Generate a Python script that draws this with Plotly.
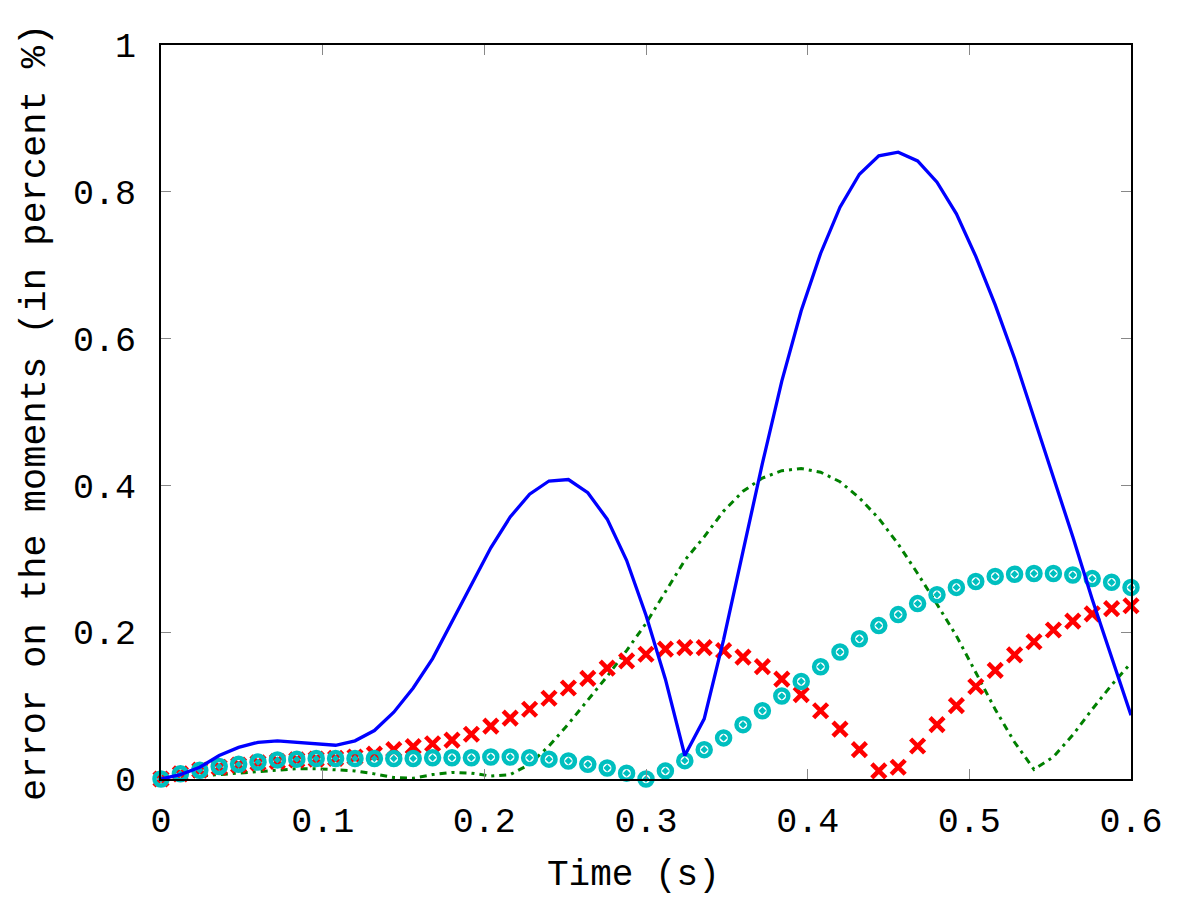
import numpy as np
import plotly.graph_objects as go

# time grid, 51 samples from 0 to 0.6 s
time_s = [round(0.012 * i, 3) for i in range(51)]

err_blue = [0.0, 0.006, 0.016, 0.032, 0.043, 0.05, 0.052, 0.05, 0.047, 0.046,
            0.052, 0.066, 0.091, 0.124, 0.164, 0.215, 0.265, 0.315, 0.357, 0.388,
            0.406, 0.408, 0.39, 0.354, 0.298, 0.223, 0.136, 0.032, 0.082, 0.19,
            0.31, 0.43, 0.542, 0.638, 0.716, 0.779, 0.824, 0.849, 0.854, 0.842,
            0.813, 0.77, 0.712, 0.646, 0.573, 0.492, 0.41, 0.33, 0.245, 0.165,
            0.087]

err_green = [0.0, 0.002, 0.004, 0.006, 0.009, 0.011, 0.013, 0.014, 0.014, 0.013,
             0.011, 0.007, 0.002, 0.001, 0.006, 0.009, 0.008, 0.004, 0.006, 0.02,
             0.045, 0.075, 0.108, 0.14, 0.175, 0.212, 0.255, 0.298, 0.33, 0.365,
             0.392, 0.41, 0.42, 0.423, 0.418, 0.405, 0.383, 0.355, 0.32, 0.28,
             0.238, 0.195, 0.145, 0.095, 0.05, 0.013, 0.03, 0.06, 0.095, 0.128,
             0.158]

err_red = [0.0, 0.007, 0.012, 0.016, 0.019, 0.022, 0.024, 0.026, 0.027, 0.028,
           0.03, 0.034, 0.04, 0.044, 0.048, 0.053, 0.061, 0.072, 0.083, 0.095,
           0.11, 0.124, 0.137, 0.151, 0.161, 0.17, 0.177, 0.179, 0.179, 0.175,
           0.166, 0.153, 0.136, 0.115, 0.093, 0.068, 0.04, 0.011, 0.016, 0.045,
           0.074, 0.1, 0.126, 0.148, 0.169, 0.187, 0.203, 0.215, 0.225, 0.232,
           0.236]

err_cyan = [0.0, 0.007, 0.012, 0.017, 0.02, 0.023, 0.026, 0.027, 0.028, 0.028,
            0.028, 0.028, 0.028, 0.028, 0.029, 0.029, 0.029, 0.03, 0.03, 0.029,
            0.027, 0.0245, 0.02, 0.015, 0.008, 0.0, 0.011, 0.025, 0.04, 0.056,
            0.074, 0.093, 0.113, 0.133, 0.153, 0.173, 0.191, 0.209, 0.224, 0.239,
            0.251, 0.261, 0.269, 0.276, 0.279, 0.28, 0.28, 0.278, 0.273, 0.268,
            0.261]

x_ticks = [0, 0.1, 0.2, 0.3, 0.4, 0.5, 0.6]
x_labels = ["0", "0.1", "0.2", "0.3", "0.4", "0.5", "0.6"]
y_ticks = [0, 0.2, 0.4, 0.6, 0.8, 1]
y_labels = ["0", "0.2", "0.4", "0.6", "0.8", "1"]

FONT = "Liberation Mono, Courier New, monospace"

fig = go.Figure()

fig.add_trace(go.Scatter(
    x=time_s, y=err_green, mode="lines",
    line=dict(color="#008000", width=3, dash="7px,5px,3px,5px"),
    cliponaxis=False, showlegend=False,
))
fig.add_trace(go.Scatter(
    x=time_s, y=err_red, mode="markers",
    marker=dict(symbol="x-thin", size=14, color="#ff0000",
                line=dict(color="#ff0000", width=4.5)),
    cliponaxis=False, showlegend=False,
))
fig.add_trace(go.Scatter(
    x=time_s, y=err_cyan, mode="markers",
    marker=dict(symbol="circle-open-dot", size=13, color="#00bfbf",
                line=dict(color="#00bfbf", width=4.5)),
    cliponaxis=False, showlegend=False,
))
fig.add_trace(go.Scatter(
    x=time_s, y=err_blue, mode="lines",
    line=dict(color="#0000ff", width=3.3),
    cliponaxis=False, showlegend=False,
))

axis_common = dict(
    showgrid=False, zeroline=False,
    showline=True, linecolor="black", linewidth=2, mirror="ticks",
    ticks="inside", ticklen=10, tickwidth=1, tickcolor="#888888",
    tickfont=dict(family=FONT, size=35, color="black"),
)

fig.update_xaxes(range=[0, 0.6], tickvals=x_ticks, ticktext=x_labels,
                 ticklabelstandoff=9, **axis_common)
fig.update_yaxes(range=[0, 1], tickvals=y_ticks, ticktext=y_labels,
                 ticklabelstandoff=16, **axis_common)

fig.add_annotation(text="Time (s)", xref="paper", yref="paper",
                   x=0.4866, y=-0.132, xanchor="center", yanchor="middle",
                   showarrow=False,
                   font=dict(family=FONT, size=36, color="black"))
fig.add_annotation(text="error on the moments (in percent %)", xref="paper", yref="paper",
                   x=-0.130, y=0.5, xanchor="center", yanchor="middle",
                   textangle=-90, showarrow=False,
                   font=dict(family=FONT, size=37, color="black"))

fig.update_layout(
    width=1200, height=900,
    margin=dict(l=153, r=77, t=37, b=129),
    plot_bgcolor="white", paper_bgcolor="white",
)

fig.write_html("out.html")
